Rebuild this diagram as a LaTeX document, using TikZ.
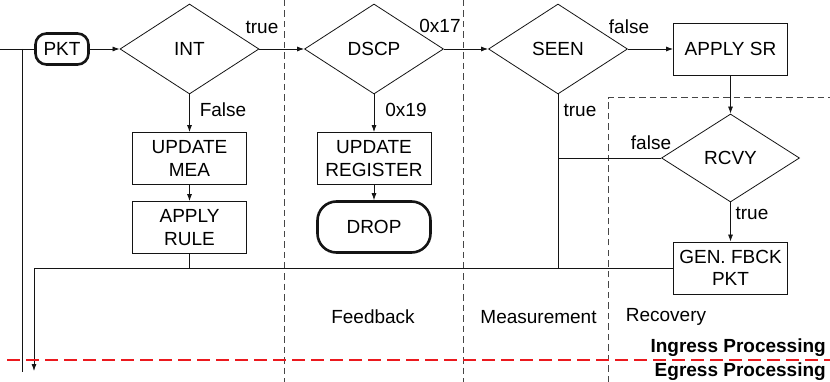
\documentclass[tikz,border=0pt]{standalone}
\usepackage{fontspec}
\setmainfont{Liberation Sans}
\usepackage{xcolor}
\usepackage{tikz}
\usetikzlibrary{arrows.meta,shapes.geometric}
\definecolor{lineDark}{RGB}{20,20,20}
\definecolor{stageGray}{RGB}{70,70,70}
\definecolor{ingressRed}{RGB}{235,25,30}
\tikzset{
  procbox/.style={
    rectangle, draw=lineDark, line width=0.8pt,
    minimum width=114pt, minimum height=52pt, align=center, inner sep=2pt
  },
  decision/.style={
    diamond, draw=lineDark, line width=0.8pt,
    minimum width=139pt, minimum height=90pt, inner sep=0pt
  },
  terminal/.style={
    rectangle, draw=lineDark, line width=2.6pt, align=center
  },
  flowArrow/.style={-{Latex[length=7pt,width=5pt]}, line width=0.8pt, color=lineDark},
  flowLine/.style={line width=0.8pt, color=lineDark},
  stageLine/.style={dash pattern=on 6.5pt off 4pt, line width=1pt, color=stageGray}
}
\begin{document}
\begin{tikzpicture}[
    x=1pt, y=-1pt,
    font=\fontsize{19}{22.7}\selectfont,
    lbl/.style={inner sep=0pt},
    zone/.style={inner sep=0pt, font=\fontsize{19}{22.7}\selectfont\bfseries, anchor=east}
  ]
    \useasboundingbox (0,0) rectangle (830,382);

    % stage borders
    \draw[stageLine] (284,0) -- (284,382);
    \draw[stageLine] (463,0) -- (463,382);
    \draw[stageLine] (608,382) -- (608,98) -- (830,98);

    \node[terminal, minimum width=53pt, minimum height=31pt, rounded corners=11pt] (pkt) at (62,49) {PKT};
    \node[decision] (int)  at (189.5,49) {INT};
    \node[decision] (dscp) at (374,49) {DSCP};
    \node[decision] (seen) at (558,49) {SEEN};
    \node[procbox] (applysr) at (730.5,49) {APPLY SR};

    \node[procbox] (updmea)    at (189.5,158.5) {UPDATE\\MEA};
    \node[procbox] (applyrule) at (189.5,227.5) {APPLY\\RULE};
    \node[procbox] (updreg)    at (374,158.5) {UPDATE\\REGISTER};
    \node[terminal, minimum width=113pt, minimum height=51pt, rounded corners=19pt] (drop) at (374,227) {DROP};

    \node[decision, minimum width=138pt, minimum height=88pt] (rcvy) at (730.5,158) {RCVY};
    \node[procbox] (genfb) at (730.5,268) {GEN. FBCK\\PKT};

    \coordinate (feed)   at (0,49);
    \coordinate (split)  at (22,49);
    \coordinate (bypass) at (22,372);
    \coordinate (mergeL) at (34,268);
    \coordinate (egress) at (34,371);

    \draw[flowLine] (feed) -- (pkt);
    \draw[flowLine] (split) -- (bypass);
    \draw[flowArrow] (pkt) -- (int);
    \draw[flowArrow] (int) -- (dscp);
    \draw[flowArrow] (dscp) -- (seen);
    \draw[flowArrow] (seen) -- (applysr);
    \draw[flowArrow] (int) -- (updmea);
    \draw[flowArrow] (updmea) -- (applyrule);
    \draw[flowArrow] (dscp) -- (updreg);
    \draw[flowArrow] (updreg) -- (drop);
    \draw[flowArrow] (applysr) -- (rcvy);
    \draw[flowArrow] (rcvy) -- (genfb);
    \draw[flowLine] (seen.south) -- (seen.south |- genfb.west);
    \draw[flowLine] (rcvy.west) -- (rcvy.west -| seen.south);
    \draw[flowLine] (applyrule.south) -- (applyrule.south |- genfb.west);
    \draw[flowArrow] (genfb.west) -- (mergeL) -- (egress);

    \node[lbl] (tInt)   at (262,27)  {true};
    \node[lbl] (fInt)   at (223,110) {False};
    \node[lbl] (hx17)   at (440,26)  {0x17};
    \node[lbl] (hx19)   at (406,110) {0x19};
    \node[lbl] (fSeen)  at (629,27)  {false};
    \node[lbl] (tSeen)  at (580,110) {true};
    \node[lbl] (fRcvy)  at (651,143) {false};
    \node[lbl] (tRcvy)  at (752,213) {true};

    \node[lbl] (feedback) at (373,317) {Feedback};
    \node[lbl] (measure)  at (538.5,317) {Measurement};
    \node[lbl] (recovery) at (666,317) {Recovery};

    \draw[ingressRed, line width=2pt, dash pattern=on 13pt off 6pt] (7,360) -- (830,360);
    \node[zone] (ingress)   at (826,348) {Ingress Processing};
    \node[zone] (egressLbl) at (826,372) {Egress Processing};
  \end{tikzpicture}
\end{document}
